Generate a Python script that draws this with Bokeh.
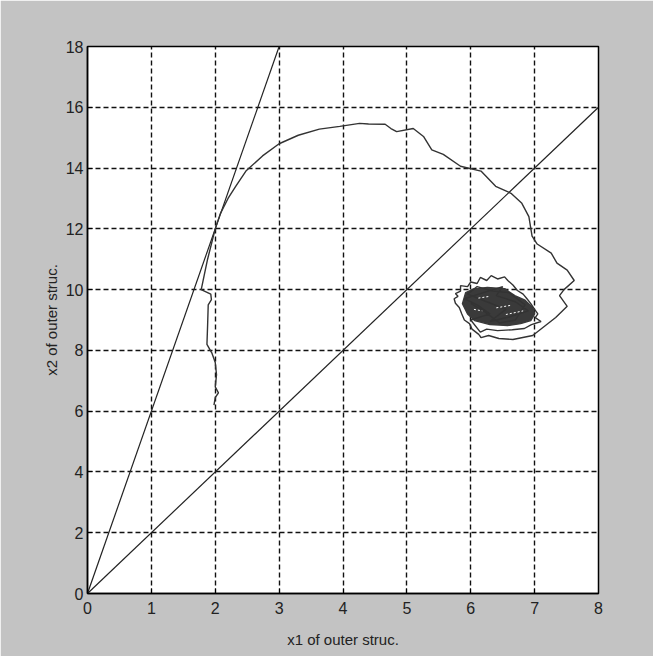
from bokeh.plotting import figure
from bokeh.models import Range1d, FixedTicker, Label
from bokeh.embed import file_html
from bokeh.resources import INLINE

# ---- data ----
x_ticks = [0, 1, 2, 3, 4, 5, 6, 7, 8]
y_ticks = [0, 2, 4, 6, 8, 10, 12, 14, 16, 18]

# sliding surfaces
surf1_x = [0, 3]
surf1_y = [0, 18]
surf2_x = [0, 8]
surf2_y = [0, 16]

# outer trajectory
traj_x = [1.98, 2.00, 2.05, 2.00, 2.02, 2.00, 1.95, 1.87, 1.88, 1.89, 1.94, 1.93,
          1.78, 1.80, 1.83, 1.88, 1.94, 2.00, 2.08, 2.20, 2.32, 2.48, 2.74, 3.00,
          3.30, 3.63, 3.95, 4.26, 4.40, 4.66, 4.75, 4.84, 5.10, 5.26, 5.39, 5.57,
          5.84, 6.16, 6.39, 6.63, 6.80, 6.91, 6.96, 7.04, 7.26, 7.35, 7.51, 7.62,
          7.46, 7.39, 7.51, 7.33, 6.97, 6.66, 6.44, 6.28, 6.16, 6.13]
traj_y = [6.20, 6.45, 6.60, 6.80, 7.20, 7.60, 7.90, 8.20, 8.80, 9.50, 9.67, 9.85,
          10.00, 10.20, 10.50, 11.00, 11.50, 12.00, 12.50, 13.00, 13.40, 13.90, 14.40, 14.80,
          15.08, 15.28, 15.37, 15.47, 15.45, 15.44, 15.30, 15.20, 15.30, 15.04, 14.60, 14.45,
          14.06, 13.90, 13.40, 13.17, 12.84, 12.40, 11.76, 11.50, 11.20, 10.87, 10.64, 10.30,
          10.00, 9.80, 9.45, 9.08, 8.49, 8.36, 8.39, 8.49, 8.42, 8.52]

# dense core of the chattering region
core_x = [5.87, 5.92, 6.05, 6.26, 6.53, 6.69, 6.85, 6.97, 7.00, 6.94, 6.78, 6.58, 6.30, 6.06, 5.95]
core_y = [9.54, 9.90, 10.02, 10.07, 10.03, 9.80, 9.65, 9.41, 9.20, 8.98, 8.88, 8.82, 8.85, 8.98, 9.20]

# chattering scribble around and across the core
scrib_x = [6.13, 6.02, 5.98, 5.90, 5.86, 5.82, 5.76, 5.74, 5.80, 5.76, 5.84, 5.84,
           5.95, 6.00, 6.10, 6.15, 6.25, 6.32, 6.42, 6.53, 6.58, 6.66, 6.73, 6.82,
           6.88, 6.94, 7.00, 7.05, 7.01, 7.10, 6.95, 6.84, 6.65, 6.42, 6.25, 6.15,
           6.00, 6.30, 6.10, 5.90, 6.20, 6.50, 6.40, 6.70, 6.90, 6.60, 6.30, 6.55,
           6.25, 5.95, 6.10, 6.35, 6.60, 6.85, 6.70, 6.45, 6.20, 6.00]
scrib_y = [8.52, 8.70, 8.88, 9.00, 9.20, 9.41, 9.55, 9.70, 9.78, 9.87, 9.95, 10.13,
           10.10, 10.25, 10.20, 10.40, 10.30, 10.46, 10.35, 10.42, 10.30, 10.15, 9.97, 9.85,
           9.70, 9.54, 9.35, 9.20, 9.08, 8.95, 8.85, 8.72, 8.68, 8.65, 8.70, 8.60,
           9.00, 9.20, 9.50, 9.70, 9.90, 10.10, 9.80, 9.60, 9.30, 9.10, 8.95, 9.35,
           9.60, 9.85, 10.10, 9.95, 9.90, 9.50, 9.00, 8.90, 9.30, 9.55]

# light streaks inside the dense core
streak_xs = [[6.12, 6.30], [6.40, 6.62], [6.55, 6.82], [6.05, 6.18]]
streak_ys = [[9.72, 9.78], [9.40, 9.48], [9.18, 9.30], [9.35, 9.30]]

FONT = "Liberation Sans"
BG = "#c3c3c3"
INK = "#222222"

p = figure(width=653, height=656, output_backend="svg", toolbar_location=None,
           x_range=Range1d(0, 8), y_range=Range1d(0, 18),
           min_border_left=87, min_border_right=55, min_border_top=46, min_border_bottom=63)
p.border_fill_color = BG
p.background_fill_color = "white"
p.outline_line_color = "black"
p.outline_line_width = 1.5
p.title.visible = False

for ax, ticks in ((p.xaxis, x_ticks), (p.yaxis, y_ticks)):
    ax.ticker = FixedTicker(ticks=ticks)
    ax.major_tick_in = 5
    ax.major_tick_out = 0
    ax.minor_tick_line_color = None
    ax.axis_line_color = "black"
    ax.axis_line_width = 1.5
    ax.major_label_text_font = FONT
    ax.major_label_text_font_size = "16px"
    ax.major_label_text_color = INK
    ax.axis_label_text_font = FONT
    ax.axis_label_text_font_size = "15px"
    ax.axis_label_text_font_style = "normal"
    ax.axis_label_text_color = INK

p.xaxis.axis_label = "x1 of outer struc."
p.yaxis.axis_label = "x2 of outer struc."
p.xaxis.major_label_standoff = 8
p.yaxis.major_label_standoff = 4
p.xaxis.axis_label_standoff = 14
p.yaxis.axis_label_standoff = 3

for g, ticks in ((p.xgrid, x_ticks), (p.ygrid, y_ticks)):
    g.ticker = FixedTicker(ticks=ticks)
    g.grid_line_color = "#111111"
    g.grid_line_width = 1.4
    g.grid_line_dash = "5 3"
    g.grid_line_alpha = 1.0

p.line(surf1_x, surf1_y, line_color=INK, line_width=1.2)
p.line(surf2_x, surf2_y, line_color=INK, line_width=1.2)
p.line(traj_x, traj_y, line_color="#333333", line_width=1.4)
p.patch(core_x, core_y, fill_color="#3a3a3a", line_color="#3a3a3a", line_width=1.4)
p.line(scrib_x, scrib_y, line_color="#333333", line_width=1.4)
p.multi_line(streak_xs, streak_ys, line_color="white", line_width=1.0, line_dash="2 2")

p.add_layout(Label(x=4, y=18, y_offset=16, text="Phase Plane & Sliding Surfaces",
                   text_align="center", text_baseline="bottom", text_font=FONT,
                   text_font_size="15px", text_color=INK))

open("out.html", "w").write(file_html(p, INLINE))
